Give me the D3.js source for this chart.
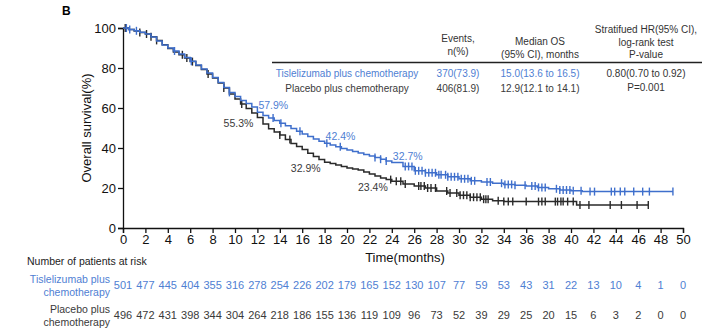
<!DOCTYPE html>
<html>
<head>
<meta charset="utf-8">
<script src="https://d3js.org/d3.v7.min.js"></script>
<style>
  body { margin: 0; background: #fff; }
  text { font-family: Arial, "Liberation Sans", sans-serif; }
</style>
</head>
<body>
<div id="chart"></div>
<script>
// KM step points (months, survival %)
var tisTimes = [0,0.5,1,1.5,2,2.5,3,3.5,4,4.5,5,5.5,6,6.5,7,7.5,8,8.5,9,9.5,10,10.5,11,11.5,12,12.5,13,13.5,14,14.5,15,15.5,16,16.5,17,17.5,18,18.5,19,19.5,20,20.5,21,21.5,22,22.5,23,23.5,24,25,26,27,28,29,30,31,32,33,34,35,36,37,38,39,40,41];
var tisSurv  = [100,99.3,98.6,97.9,97,95.5,93.5,91.5,90,88.5,87,85.2,83.4,81.5,79.5,77.5,75.2,72.8,70.2,67.8,65.8,63.8,62.2,60.5,57.9,56.3,55,53.7,52.4,51.1,49.8,48.4,47,45.8,44.5,43.4,42.4,41.5,40.6,39.8,39,38.2,37.5,36.7,36,35.2,34.4,33.5,32.7,30.8,28.6,27.6,26.6,25.6,24.6,23.6,23,22.4,21.8,21.4,21,20.3,19.6,19,18.6,18.2];
var tisEnd = 49.1;

var plaTimes = [0,0.5,1,1.5,2,2.5,3,3.5,4,4.5,5,5.5,6,6.5,7,7.5,8,8.5,9,9.5,10,10.5,11,11.5,12,12.5,13,13.5,14,14.5,15,15.5,16,16.5,17,17.5,18,18.5,19,19.5,20,20.5,21,21.5,22,22.5,23,23.5,24,25,26,27,28,29,30,31,32,33,34,40.5];
var plaSurv  = [100,99.3,98.5,97.8,97,95.6,93.8,91.6,89.8,88,86.6,85,83.2,81.3,79.3,77,75,72.5,70,67,64.5,62,59.8,57.5,55.3,52,49.6,48,46.5,44.3,42.3,40.8,39.3,37.4,35.8,34.2,32.9,32.2,31.5,30.7,30,29.5,29,28,27,26,25,24.2,23.4,22,21,20,18.5,17.5,16.4,15.4,14.4,13.6,13.2,11.5];
var plaEnd = 46.9;

// censoring times
var tisCens = [0.3,0.6,1.2,4.6,6.1,9.5,13.4,14.1,15.8,18.2,19.4,22.5,23.0,23.5,25.2,25.5,25.8,26.1,26.4,26.7,27.0,27.3,27.6,27.9,28.2,28.4,28.8,29.0,29.3,29.6,29.9,30.2,30.5,30.8,31.1,31.4,32.5,32.8,33.8,34.1,34.4,34.7,35.0,35.9,36.5,36.8,37.1,37.4,37.7,38.7,39.0,39.3,39.6,39.9,40.2,40.9,41.7,42.1,43.6,43.9,44.4,44.8,45.6,46.4,47.0,49.1];
var plaCens = [0.2,1.5,2.1,2.5,3.0,5.3,5.7,6.2,7.6,9.0,10.6,14.0,14.9,23.9,24.4,24.8,25.2,26.4,26.6,26.9,27.2,27.5,27.9,28.9,29.2,29.8,30.1,30.4,30.7,31.0,31.3,31.6,31.9,32.2,32.4,32.6,33.5,34.0,34.4,34.8,36.0,37.1,37.4,37.7,38.6,38.8,39.1,39.3,39.7,40.2,40.8,41.6,43.5,44.5,45.9,46.9];

// landmark labels
var markTimes = [12, 18, 24];
var tisMarks = [57.9, 42.4, 32.7];
var plaMarks = [55.3, 32.9, 23.4];

// number at risk
var riskTimes = d3.range(0, 51, 2);
var tisRisk = [501,477,445,404,355,316,278,254,226,202,179,165,152,130,107,77,59,53,43,31,22,13,10,4,1,0];
var plaRisk = [496,472,431,398,344,304,264,218,186,155,136,119,109,96,73,52,39,29,25,20,15,6,3,2,0,0];

// summary table
var armNames = ["Tislelizumab plus chemotherapy", "Placebo plus chemotherapy"];
var events = ["370(73.9)", "406(81.9)"];
var medians = ["15.0(13.6 to 16.5)", "12.9(12.1 to 14.1)"];
var hrLines = ["0.80(0.70 to 0.92)", "P=0.001"];

var blue = "#3f6fcc", blueText = "#4f80d3", dark = "#2a2a2a", darkText = "#3a3a3a";

var svg = d3.select("#chart").append("svg")
  .attr("width", 718).attr("height", 331);

var x = d3.scaleLinear().domain([0, 50]).range([123, 683]);
var y = d3.scaleLinear().domain([0, 100]).range([228, 28]);

// axes
var yAxis = svg.append("g")
  .attr("transform", "translate(123,0)")
  .call(d3.axisLeft(y).tickValues([0,20,40,60,80,100]).tickSize(5).tickPadding(2));
var xAxis = svg.append("g")
  .attr("transform", "translate(0,228)")
  .call(d3.axisBottom(x).tickValues(riskTimes).tickSize(5).tickPadding(2));
[yAxis, xAxis].forEach(function(a) {
  a.select(".domain").attr("stroke", "#111").attr("stroke-width", 1.3);
  a.selectAll(".tick line").attr("stroke", "#111").attr("stroke-width", 1.3);
  a.selectAll("text").attr("font-size", 13).attr("fill", "#111")
    .attr("font-family", "Arial, 'Liberation Sans', sans-serif");
});

svg.append("text").attr("transform", "translate(91,128) rotate(-90)")
  .attr("text-anchor", "middle").attr("font-size", 13).attr("fill", "#111")
  .text("Overall survival(%)");
svg.append("text").attr("x", 405).attr("y", 262)
  .attr("text-anchor", "middle").attr("font-size", 13).attr("fill", "#111")
  .text("Time(months)");
svg.append("text").attr("x", 62).attr("y", 15)
  .attr("font-size", 12).attr("font-weight", "bold").text("B");

function stepAt(times, surv, t) {
  var i = d3.bisectRight(times, t) - 1;
  return surv[Math.max(i, 0)];
}

function drawArm(times, surv, end, cens, color) {
  var pts = times.map(function(t, i) { return [t, surv[i]]; });
  pts.push([end, surv[surv.length - 1]]);
  svg.append("path")
    .datum(pts)
    .attr("fill", "none").attr("stroke", color).attr("stroke-width", 1.5)
    .attr("d", d3.line().curve(d3.curveStepAfter)
      .x(function(d) { return x(d[0]); })
      .y(function(d) { return y(d[1]); }));
  svg.append("g").selectAll("line").data(cens).join("line")
    .attr("x1", function(d) { return x(d); })
    .attr("x2", function(d) { return x(d); })
    .attr("y1", function(d) { return y(stepAt(times, surv, d)) - 4; })
    .attr("y2", function(d) { return y(stepAt(times, surv, d)) + 4; })
    .attr("stroke", color).attr("stroke-width", 1.4);
}

drawArm(plaTimes, plaSurv, plaEnd, plaCens, dark);
drawArm(tisTimes, tisSurv, tisEnd, tisCens, blue);

// landmark labels
svg.append("g").selectAll("text").data(markTimes).join("text")
  .attr("x", function(d) { return x(d) + 1; })
  .attr("y", function(d, i) { return y(tisMarks[i]) - 3; })
  .attr("font-size", 10.5).attr("fill", blueText)
  .text(function(d, i) { return tisMarks[i].toFixed(1) + "%"; });
svg.append("g").selectAll("text").data(markTimes).join("text")
  .attr("x", function(d) { return x(d) - 4; })
  .attr("y", function(d, i) { return y(plaMarks[i]) + 10; })
  .attr("text-anchor", "end")
  .attr("font-size", 10.5).attr("fill", darkText)
  .text(function(d, i) { return plaMarks[i].toFixed(1) + "%"; });

// summary table
var tbl = svg.append("g").attr("font-size", 10);
function hdr(cx, lines, y0) {
  lines.forEach(function(s, i) {
    tbl.append("text").attr("x", cx).attr("y", y0 + i * 12.5)
      .attr("text-anchor", "middle").attr("fill", "#333").text(s);
  });
}
hdr(458, ["Events,", "n(%)"], 42);
hdr(540, ["Median OS", "(95% CI), months"], 45);
hdr(646, ["Stratifued HR(95% CI),", "log-rank test", "P-value"], 33);
tbl.append("line").attr("x1", 272).attr("x2", 702).attr("y1", 62.5).attr("y2", 62.5)
  .attr("stroke", "#222").attr("stroke-width", 1.3);
var rowY = [76.5, 92];
var rowCol = [blueText, darkText];
armNames.forEach(function(n, i) {
  tbl.append("text").attr("x", 347).attr("y", rowY[i]).attr("text-anchor", "middle")
    .attr("fill", rowCol[i]).text(n);
  tbl.append("text").attr("x", 458).attr("y", rowY[i]).attr("text-anchor", "middle")
    .attr("fill", rowCol[i]).text(events[i]);
  tbl.append("text").attr("x", 540).attr("y", rowY[i]).attr("text-anchor", "middle")
    .attr("fill", rowCol[i]).text(medians[i]);
  tbl.append("text").attr("x", 646).attr("y", i === 0 ? 77 : 90.5).attr("text-anchor", "middle")
    .attr("fill", "#333").text(hrLines[i]);
});

// number at risk
svg.append("text").attr("x", 27).attr("y", 265).attr("font-size", 10.5)
  .attr("fill", "#222").text("Number of patients at risk");
var riskRows = [
  {label: ["Tislelizumab plus", "chemotherapy"], vals: tisRisk, color: blueText, y: 289},
  {label: ["Placebo plus", "chemotherapy"], vals: plaRisk, color: darkText, y: 319}
];
riskRows.forEach(function(r) {
  r.label.forEach(function(s, i) {
    svg.append("text").attr("x", 110).attr("y", r.y - 6 + i * 12.5)
      .attr("text-anchor", "end").attr("font-size", 10.5).attr("fill", r.color).text(s);
  });
  svg.append("g").selectAll("text").data(r.vals).join("text")
    .attr("x", function(d, i) { return x(riskTimes[i]); })
    .attr("y", r.y)
    .attr("text-anchor", "middle").attr("font-size", 11).attr("fill", r.color)
    .text(function(d) { return d; });
});
</script>
</body>
</html>
